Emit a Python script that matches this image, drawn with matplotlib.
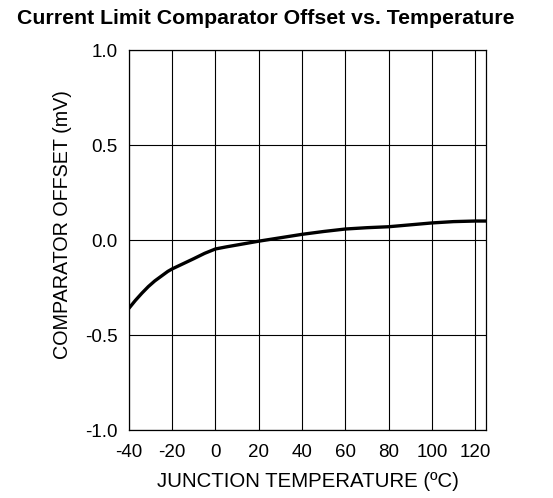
import matplotlib
matplotlib.use("Agg")
import matplotlib.pyplot as plt
import numpy as np

plt.rcParams['font.family'] = ['Liberation Sans', 'DejaVu Sans']
plt.rcParams['axes.unicode_minus'] = False

temp = [-40, -37, -34, -31, -28, -25, -22, -20, -15, -10, -5, 0, 5, 10, 20, 30, 40, 50, 60, 70, 80, 90, 100, 110, 120, 125]
offset = [-0.36, -0.318, -0.28, -0.245, -0.215, -0.19, -0.165, -0.152, -0.125, -0.098, -0.07, -0.047, -0.036, -0.026, -0.006, 0.012, 0.03, 0.045, 0.058, 0.065, 0.07, 0.08, 0.09, 0.097, 0.10, 0.10]

xticks = [-40, -20, 0, 20, 40, 60, 80, 100, 120]
yticks = [-1.0, -0.5, 0.0, 0.5, 1.0]
ytick_labels = ['-1.0', '-0.5', '0.0', '0.5', '1.0']

fig = plt.figure(figsize=(5.53, 4.98), dpi=100)
ax = fig.add_axes([0.233, 0.1365, 0.646, 0.763])
ax.plot(temp, offset, color='black', lw=2.4, solid_capstyle='butt')
ax.set_xlim(-40, 125)
ax.set_ylim(-1.0, 1.0)
ax.set_xticks(xticks)
ax.set_yticks(yticks)
ax.set_yticklabels(ytick_labels)
ax.grid(True, color='black', lw=0.8)
ax.tick_params(length=0, labelsize=13.5)
ax.tick_params(axis='x', pad=10)
ax.tick_params(axis='y', pad=8)
for s in ax.spines.values():
    s.set_linewidth(0.9)
ax.set_xlabel('JUNCTION TEMPERATURE (ºC)', fontsize=14.7, labelpad=8)
ax.set_ylabel('COMPARATOR OFFSET (mV)', fontsize=14.2)
ax.yaxis.set_label_coords(-0.16, 0.542)
fig.text(0.481, 0.982, 'Current Limit Comparator Offset vs. Temperature', ha='center', va='top',
         fontsize=15.3, fontweight='bold')
fig.savefig('out.png', dpi=100)
